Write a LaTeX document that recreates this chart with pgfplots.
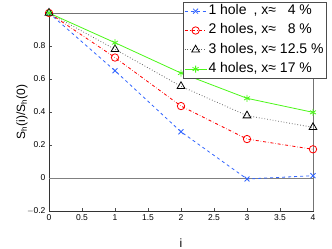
\documentclass[border=0pt]{standalone}
\usepackage{pgfplots}
\pgfplotsset{compat=1.18}
\usepackage{fontspec}
\setmainfont{Liberation Sans}
\begin{document}
\begin{tikzpicture}
\path[use as bounding box] (-49pt,-38pt) rectangle (283pt,211pt);
\begin{axis}[
  at={(0,0)}, anchor=south west,
  scale only axis, width=264pt, height=198pt,
  xmin=0, xmax=4, ymin=-0.2, ymax=1,
  xtick={0,0.5,...,4}, ytick={-0.2,0,0.2,0.4,0.6,0.8},
  yticklabels={$-$0.2,0,0.2,0.4,0.6,0.8},
  xticklabels={0,0.5,1,1.5,2,2.5,3,3.5,4},
  /pgf/number format/assume math mode=true,
  tick label style={font=\fontsize{8.5}{9}\selectfont},
  tick align=inside, major tick length=3pt,
  tick style={black!70, line width=0.4pt},
  xtick pos=bottom, ytick pos=left,
  axis line style={black!80, line width=0.5pt},
  xlabel={i}, ylabel={S$_\mathrm{h}$(i)/S$_\mathrm{h}$(0)},
  label style={font=\fontsize{12}{13}\selectfont},
  xlabel style={at={(axis description cs:0.5,-0.16)}, anchor=center},
  ylabel style={at={(axis description cs:-0.102,0.5)}, anchor=center},
  legend style={at={(0.5076,1.0556)}, anchor=north west,
    font=\fontsize{14}{16}\selectfont, draw=black!70, fill=white,
    row sep=4.3pt, inner xsep=1pt, inner ysep=1.5pt,
    nodes={inner xsep=1.5pt, inner ysep=1pt, text height=10pt, text depth=3pt}},
  legend image code/.code={%
    \draw[mark repeat=2,mark phase=2,#1] plot coordinates {(0pt,0pt) (11pt,0pt) (22pt,0pt)};},
  legend cell align=left,
  clip=false,
]
\draw[black!50, line width=0.4pt] (axis cs:0,0) -- (axis cs:4,0);
\draw[black!55, line width=0.5pt] (axis cs:0,1) -- (axis cs:4,1) -- (axis cs:4,-0.2);
\addplot[color={rgb,1:red,0.2;green,0.4;blue,1}, dashed, line width=0.8pt,
  mark=x, mark size=3.5pt, mark options={solid, line width=0.8pt}]
  coordinates {(0,1) (1,0.65) (2,0.28) (3,-0.006) (4,0.014)};
\addlegendentry{1 hole\hphantom{s}, x≈ \hphantom{1}4 \%}
\addplot[color=red, dash dot, line width=0.8pt,
  mark=o, mark size=3.7pt, mark options={solid, line width=0.8pt}]
  coordinates {(0,1) (1,0.73) (2,0.436) (3,0.236) (4,0.174)};
\addlegendentry{2 holes, x≈ \hphantom{1}8 \%}
\addplot[color=black!60, dotted, line width=0.8pt,
  mark=triangle, mark size=4.5pt, mark options={solid, black, line width=0.8pt}]
  coordinates {(0,1) (1,0.78) (2,0.556) (3,0.378) (4,0.307)};
\addlegendentry{3 holes, x≈ 12.5 \%}
\addplot[color={rgb,1:red,0.3;green,0.97;blue,0.1}, solid, line width=0.8pt,
  mark=asterisk, mark size=3.5pt, mark options={solid, line width=0.8pt}]
  coordinates {(0,1) (1,0.82) (2,0.636) (3,0.483) (4,0.398)};
\addlegendentry{4 holes, x≈ 17 \%}
\end{axis}
\end{tikzpicture}
\end{document}
